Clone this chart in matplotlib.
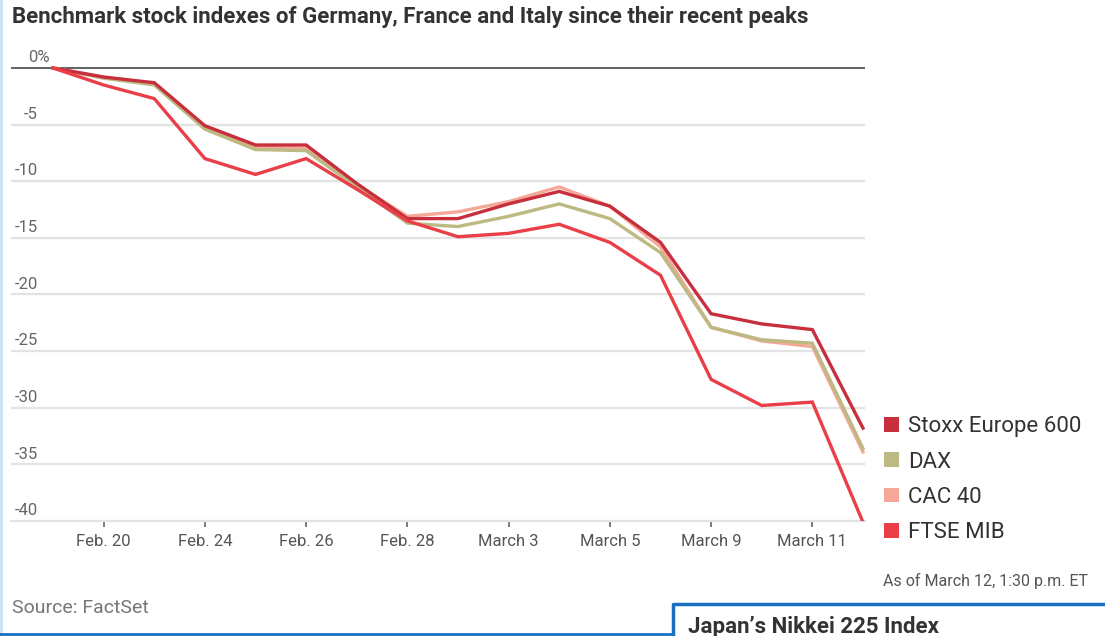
import matplotlib
matplotlib.use('Agg')
import matplotlib.pyplot as plt
import matplotlib.transforms as mtransforms
from matplotlib.patches import Patch, Rectangle
from matplotlib.lines import Line2D

plt.rcParams['font.family'] = ['Roboto', 'DejaVu Sans']

# trading days since Feb. 19
days = ['Feb. 19', 'Feb. 20', 'Feb. 21', 'Feb. 24', 'Feb. 25', 'Feb. 26', 'Feb. 27',
        'Feb. 28', 'March 2', 'March 3', 'March 4', 'March 5', 'March 6',
        'March 9', 'March 10', 'March 11', 'March 12']
tick_labels = ['Feb. 20', 'Feb. 24', 'Feb. 26', 'Feb. 28', 'March 3', 'March 5', 'March 9', 'March 11']

stoxx = [0, -0.8, -1.3, -5.1, -6.8, -6.8, -10.2, -13.3, -13.3, -12.0, -10.9, -12.2, -15.4, -21.7, -22.6, -23.1, -31.8]
dax = [0, -0.9, -1.5, -5.4, -7.2, -7.3, -10.5, -13.7, -14.0, -13.1, -12.0, -13.3, -16.3, -22.9, -24.0, -24.3, -33.6]
cac = [0, -0.8, -1.4, -5.2, -7.0, -7.1, -10.3, -13.1, -12.7, -11.8, -10.5, -12.2, -15.8, -22.9, -24.1, -24.6, -33.9]
ftse = [0, -1.5, -2.7, -8.0, -9.4, -8.0, -10.7, -13.5, -14.9, -14.6, -13.8, -15.4, -18.3, -27.5, -29.8, -29.5, -40.1]

names = ['Stoxx Europe 600', 'DAX', 'CAC 40', 'FTSE MIB']
colors = ['#c62f3b', '#bdb983', '#f5a898', '#ea3e48']

W, H = 1105, 636
fig = plt.figure(figsize=(W / 100, H / 100), dpi=100)

ax = fig.add_axes([11 / W, (H - 521) / H, 854 / W, 476 / H])
x = list(range(len(days)))
ax.set_xlim(-0.83, 16.04)
ax.set_ylim(-40, 2.03)

for v in range(-35, 0, 5):
    ax.axhline(v, color='#e3e3e3', lw=1.6, zorder=1)
ax.axhline(0, color='#555555', lw=1.3, zorder=1)

ax.plot(x, cac, color=colors[2], lw=2.4, zorder=3, solid_joinstyle='miter')
ax.plot(x, dax, color=colors[1], lw=2.4, zorder=4, solid_joinstyle='miter')
ax.plot(x, stoxx, color=colors[0], lw=2.4, zorder=5, solid_joinstyle='miter')
ax.plot(x, ftse, color=colors[3], lw=2.4, zorder=6, solid_joinstyle='miter')

for s in ['top', 'right', 'left']:
    ax.spines[s].set_visible(False)
ax.spines['bottom'].set_color('#e3e3e3')
ax.spines['bottom'].set_linewidth(1.6)
ax.set_yticks([])
ax.set_xticks([days.index(t) for t in tick_labels])
ax.set_xticklabels(tick_labels)
ax.tick_params(axis='x', length=4, width=1.2, color='#666666', labelsize=12,
               labelcolor='#555555', pad=5)

trans = mtransforms.blended_transform_factory(ax.transAxes, ax.transData)
for v in range(0, -45, -5):
    if v == 0:
        ax.text((28 - 11) / 854, v + 0.25, '0%', transform=trans, ha='left', va='bottom',
                fontsize=12, color='#666666')
    else:
        ax.text((38 - 11) / 854, v + 0.25, str(v), transform=trans, ha='right', va='bottom',
                fontsize=12, color='#666666')

handles = [Patch(facecolor=c, edgecolor='none') for c in colors]
fig.legend(handles, names, loc='upper left', bbox_to_anchor=(871 / W, 1 - 403 / H),
           frameon=False, fontsize=16, handlelength=0.65, handleheight=0.65,
           handletextpad=0.4, labelspacing=0.64, labelcolor='#333333',
           borderaxespad=0.2)

fig.text(12 / W, 1 - 17 / H, 'Benchmark stock indexes of Germany, France and Italy since their recent peaks',
         ha='left', va='center', fontsize=16, fontweight='bold', color='#333333')
fig.text(1088 / W, 1 - 581 / H, 'As of March 12, 1:30 p.m. ET', ha='right', va='center',
         fontsize=11.5, color='#555555')
fig.text(12 / W, 1 - 608 / H, 'Source: FactSet', ha='left', va='center', fontsize=14, color='#777777')

# frame pieces of the page
fig.add_artist(Rectangle((0, 0), 2.5 / W, 1, transform=fig.transFigure, color='#cde2f3', lw=0))
fig.add_artist(Line2D([0, 673 / W], [1 - 634 / H, 1 - 634 / H], transform=fig.transFigure,
                      color='#1b6fc2', lw=2))
fig.add_artist(Line2D([673 / W, 673 / W, 1], [0, 1 - 604 / H, 1 - 604 / H], transform=fig.transFigure,
                      color='#1b6fc2', lw=2.5))
fig.text(688 / W, 1 - 627 / H, 'Japan\u2019s Nikkei 225 Index', ha='left', va='center',
         fontsize=16, fontweight='bold', color='#333333')

fig.savefig('out.png', dpi=100)
